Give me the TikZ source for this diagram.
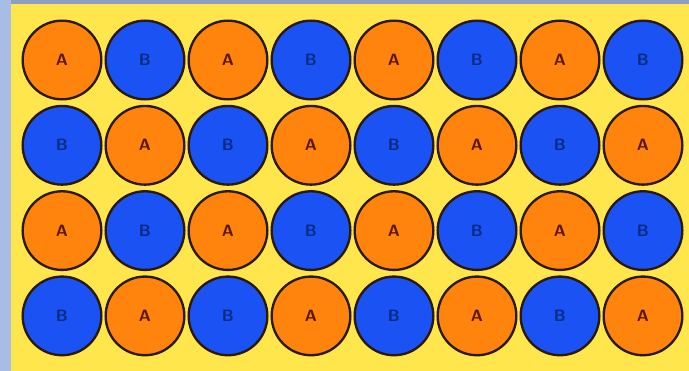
\documentclass[tikz,border=0pt]{standalone}
\definecolor{sidestrip}{HTML}{A9BCE6}
\definecolor{topstrip}{HTML}{8D9DC4}
\definecolor{tray}{HTML}{FFE64C}
\definecolor{atomorange}{HTML}{FF840E}
\definecolor{atomblue}{HTML}{1A52F4}
\definecolor{rim}{HTML}{2A1808}
\definecolor{letterbrown}{HTML}{5A1800}
\definecolor{letternavy}{HTML}{0A2A80}
\begin{document}
\begin{tikzpicture}[
    x=0.03cm, y=-0.03cm,
    every node/.style={circle, draw=rim, line width=2pt, minimum size=2.36cm, inner sep=0pt,
      font=\sffamily\bfseries\fontsize{14}{14}\selectfont},
    atom a/.style={fill=atomorange, text=letterbrown},
    atom b/.style={fill=atomblue, text=letternavy}
  ]
  % frame and yellow tray
  \fill[sidestrip] (0,0) rectangle (689,371);
  \fill[topstrip] (11,0) rectangle (689,4);
  \fill[tray] (11,4) rectangle (689,371);
  % checkerboard of A and B atoms
  \foreach \r in {0,...,3}{
    \foreach \c in {0,...,7}{
      \pgfmathtruncatemacro{\kind}{mod(\r+\c,2)}
      \ifnum\kind=0
        \node[atom a] (c-\r-\c) at ({62+83*\c},{60+85.3*\r}) {A};
      \else
        \node[atom b] (c-\r-\c) at ({62+83*\c},{60+85.3*\r}) {B};
      \fi
    }
  }
\end{tikzpicture}
\end{document}
